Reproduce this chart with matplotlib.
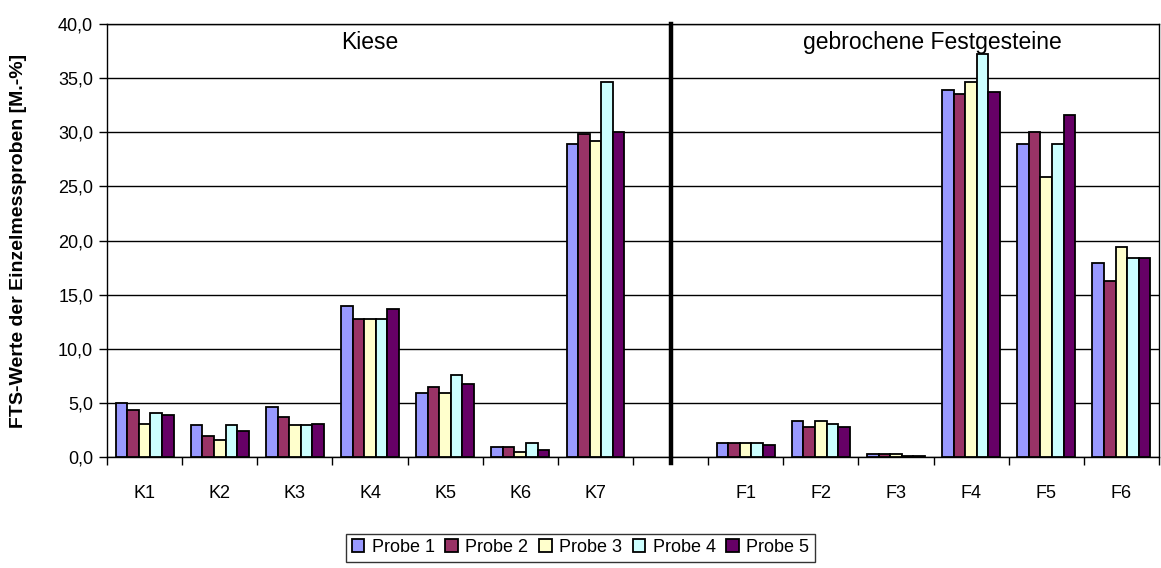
import matplotlib
matplotlib.use("Agg")
import matplotlib.pyplot as plt
import numpy as np
from matplotlib.ticker import FuncFormatter, MultipleLocator

plt.rcParams['font.family'] = ['Liberation Sans', 'DejaVu Sans']

# Kategorien: Kiese K1-K7, Leerplatz als Trenner, gebrochene Festgesteine F1-F6
kategorien = ["K1", "K2", "K3", "K4", "K5", "K6", "K7", "",
              "F1", "F2", "F3", "F4", "F5", "F6"]
proben = ["Probe 1", "Probe 2", "Probe 3", "Probe 4", "Probe 5"]
farben = ["#9999FF", "#993366", "#FFFFCC", "#CCFFFF", "#660066"]

leer = np.nan
probe1 = [5.0, 3.0, 4.6, 14.0, 5.9, 0.9, 28.9, leer, 1.3, 3.3, 0.3, 33.9, 28.9, 17.9]
probe2 = [4.4, 2.0, 3.7, 12.8, 6.5, 0.9, 29.8, leer, 1.3, 2.8, 0.3, 33.5, 30.0, 16.3]
probe3 = [3.1, 1.6, 3.0, 12.8, 5.9, 0.5, 29.2, leer, 1.3, 3.3, 0.3, 34.6, 25.9, 19.4]
probe4 = [4.1, 3.0, 3.0, 12.8, 7.6, 1.3, 34.6, leer, 1.3, 3.1, 0.1, 37.2, 28.9, 18.4]
probe5 = [3.9, 2.4, 3.1, 13.7, 6.8, 0.7, 30.0, leer, 1.1, 2.8, 0.1, 33.7, 31.6, 18.4]
werte = [probe1, probe2, probe3, probe4, probe5]

fig = plt.figure(figsize=(11.61, 5.68), dpi=100)
ax = fig.add_axes([0.0922, 0.195, 0.906, 0.763])

x = np.arange(len(kategorien))
b = 1 / 6.5  # Abstandsbreite 150 %
for j in range(5):
    ax.bar(x + (j - 2) * b, werte[j], width=b, color=farben[j],
           edgecolor="black", linewidth=1.3, label=proben[j], zorder=3)

ax.set_xlim(-0.5, len(kategorien) - 0.5)
ax.set_ylim(0, 40)
ax.yaxis.set_major_locator(MultipleLocator(5))
ax.yaxis.set_major_formatter(FuncFormatter(lambda v, p: f"{v:.1f}".replace(".", ",")))
ax.grid(axis="y", color="black", linewidth=1.0, zorder=0)

# Kategoriebeschriftung mittig, Teilstriche an den Grenzen
ax.set_xticks(x)
ax.set_xticklabels(kategorien)
ax.set_xticks(np.arange(-0.5, len(kategorien)), minor=True)
ax.tick_params(axis="x", which="major", length=0, pad=20, labelsize=13)
ax.tick_params(axis="x", which="minor", length=6, width=1, direction="out")
ax.tick_params(axis="y", length=6, width=1, direction="out", pad=4, labelsize=13)

for s in ax.spines.values():
    s.set_linewidth(1.0)
    s.set_color("black")

# Trennlinie zwischen Kiesen und Festgesteinen
ax.plot([7, 7], [-0.5, 40], color="black", linewidth=3.2, clip_on=False, zorder=4)

ax.text(3.0, 37.7, "Kiese", fontsize=16.5, ha="center", va="baseline")
ax.text(10.48, 37.7, "gebrochene Festgesteine", fontsize=16.5, ha="center", va="baseline")

ax.set_ylabel("FTS-Werte der Einzelmessproben [M.-%]", fontsize=14,
              fontweight="bold")
ax.yaxis.set_label_coords(-0.076, 0.5)

leg = fig.legend(loc="lower center", bbox_to_anchor=(0.5, 0.005), ncol=5,
                 fontsize=13, frameon=True, fancybox=False, edgecolor="black",
                 handlelength=0.7, handleheight=0.7, handletextpad=0.4,
                 columnspacing=0.6, borderpad=0.3, borderaxespad=0.2)
leg.get_frame().set_linewidth(1.0)

fig.savefig("out.png", dpi=100)
